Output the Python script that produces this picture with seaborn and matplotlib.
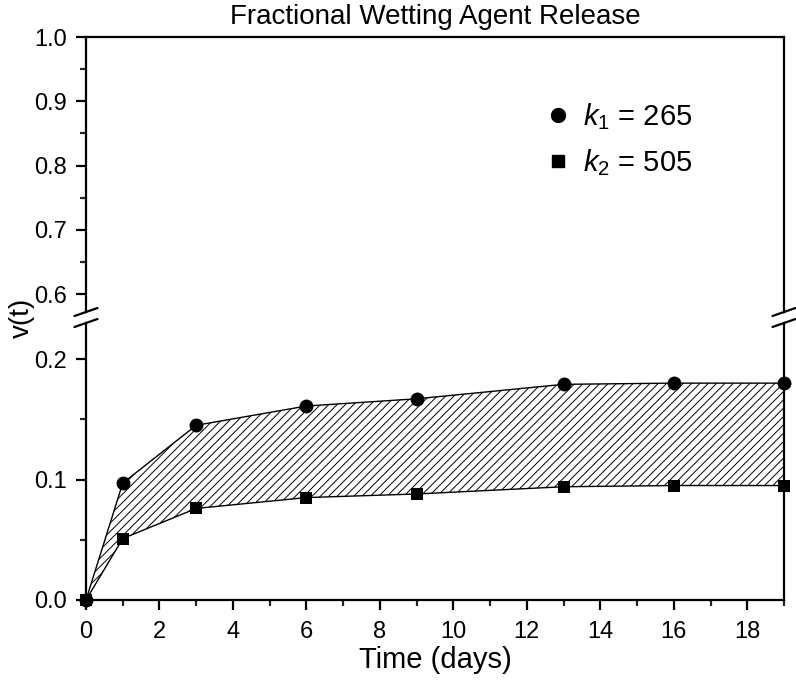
import matplotlib
matplotlib.use('Agg')
import matplotlib.pyplot as plt
import seaborn as sns
import numpy as np
from matplotlib.lines import Line2D
from matplotlib.ticker import MultipleLocator

# data
days = [0, 1, 3, 6, 9, 13, 16, 19]
v_k1 = [0.0, 0.097, 0.145, 0.161, 0.167, 0.179, 0.180, 0.180]
v_k2 = [0.0, 0.051, 0.076, 0.085, 0.088, 0.094, 0.095, 0.095]
series_labels = [r'$k_1$ = 265', r'$k_2$ = 505']

sns.set_theme(style='ticks')
plt.rcParams['font.family'] = ['Liberation Sans', 'DejaVu Sans']
plt.rcParams['mathtext.fontset'] = 'custom'
plt.rcParams['mathtext.rm'] = 'Liberation Sans'
plt.rcParams['mathtext.it'] = 'Liberation Sans:italic'
plt.rcParams['hatch.linewidth'] = 0.7
plt.rcParams['text.color'] = 'black'
plt.rcParams['axes.labelcolor'] = 'black'

W, H = 796, 682
fig = plt.figure(figsize=(W / 100, H / 100), dpi=100)

def fx(px):
    return px / W

def fy(py):
    return 1 - py / H

x0, x1 = 86, 784
ax_top = fig.add_axes([fx(x0), fy(312), fx(x1) - fx(x0), fy(37) - fy(312)])
ax_bot = fig.add_axes([fx(x0), fy(600), fx(x1) - fx(x0), fy(323) - fy(600)])

# lower panel: data
ax_bot.fill_between(days, v_k2, v_k1, facecolor='none', edgecolor='black',
                    hatch='////', linewidth=0)
sns.lineplot(x=days, y=v_k1, ax=ax_bot, color='black', linewidth=1.0,
             marker='o', markersize=10, markeredgewidth=0, clip_on=False)
sns.lineplot(x=days, y=v_k2, ax=ax_bot, color='black', linewidth=1.0,
             marker='s', markersize=9, markeredgewidth=0, clip_on=False)

ax_bot.set_xlim(0, 19)
ax_bot.set_ylim(0, 0.2299)
ax_top.set_xlim(0, 19)
ax_top.set_ylim(0.572, 1.0)

ax_bot.yaxis.set_major_locator(MultipleLocator(0.1))
ax_bot.yaxis.set_minor_locator(MultipleLocator(0.05))
ax_bot.xaxis.set_major_locator(MultipleLocator(2))
ax_bot.xaxis.set_minor_locator(MultipleLocator(1))
ax_bot.yaxis.set_major_formatter(plt.FormatStrFormatter('%.1f'))
ax_top.yaxis.set_major_locator(MultipleLocator(0.1))
ax_top.yaxis.set_minor_locator(MultipleLocator(0.05))
ax_top.yaxis.set_major_formatter(plt.FormatStrFormatter('%.1f'))

for ax in (ax_top, ax_bot):
    for s in ax.spines.values():
        s.set_linewidth(1.6)
        s.set_color('black')
    ax.tick_params(which='major', direction='out', length=7, width=1.6,
                   labelsize=17, colors='black')
    ax.tick_params(which='minor', direction='out', length=4, width=1.6)
    ax.tick_params(top=False, right=False, which='both')
    ax.tick_params(axis='y', pad=7)
ax_bot.tick_params(axis='x', pad=8)

ax_top.spines['bottom'].set_visible(False)
ax_top.tick_params(axis='x', which='both', bottom=False, labelbottom=False)
ax_bot.spines['top'].set_visible(False)

ax_bot.set_xlabel('Time (days)', fontsize=21, labelpad=2)
ax_bot.set_ylabel('')
ax_top.set_title('Fractional Wetting Agent Release', fontsize=20, pad=9)
fig.text(fx(22), fy(318), 'v(t)', rotation=90, fontsize=20,
         ha='center', va='center')

# axis break marks
for xs in (x0, x1):
    for yc in (312, 323):
        fig.add_artist(Line2D([fx(xs - 11.5), fx(xs + 11.5)],
                              [fy(yc + 4), fy(yc - 4)],
                              transform=fig.transFigure, color='black',
                              linewidth=1.6))

handles = [Line2D([], [], color='black', marker='o', linestyle='none',
                  markersize=10),
           Line2D([], [], color='black', marker='s', linestyle='none',
                  markersize=9)]
ax_top.legend(handles, series_labels, loc='upper left',
              bbox_to_anchor=(fx(544), fy(101)), bbox_transform=fig.transFigure,
              frameon=False, fontsize=21, handlelength=0.95,
              handletextpad=0.4, labelspacing=0.52, borderpad=0,
              borderaxespad=0)

fig.savefig('out.png', dpi=100)
